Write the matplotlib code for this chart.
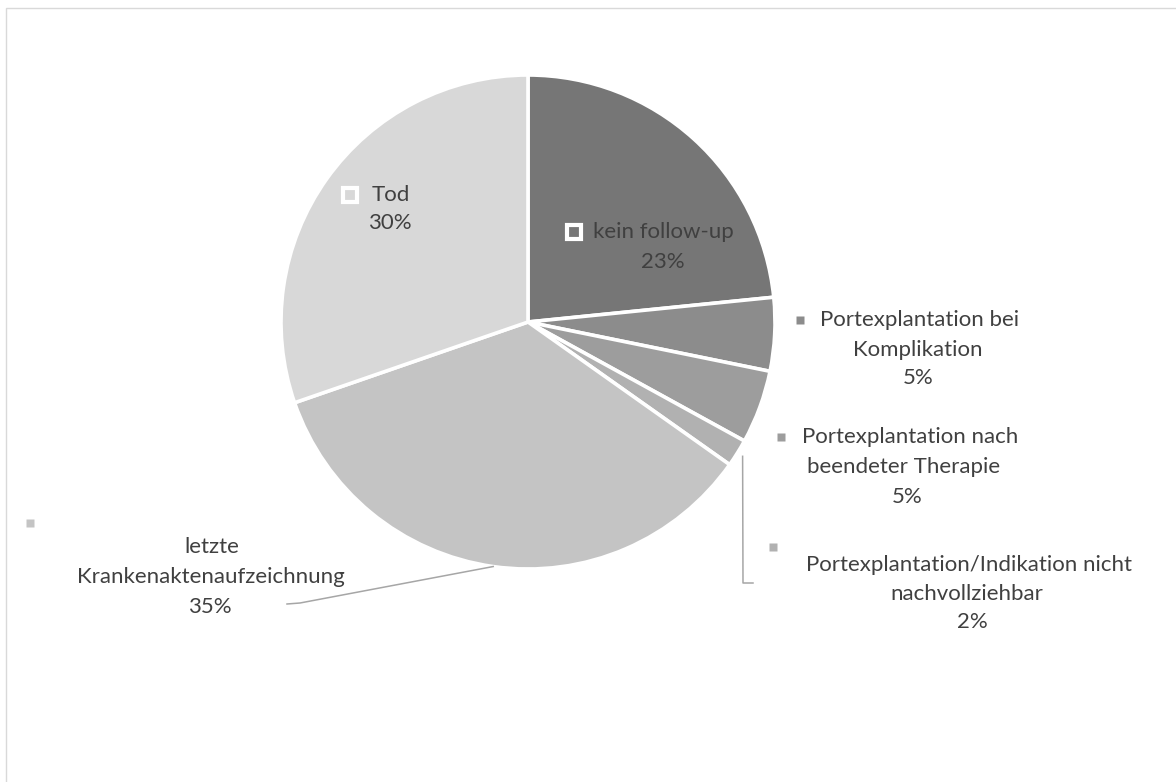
import matplotlib
matplotlib.use('Agg')
import matplotlib.pyplot as plt
from matplotlib.patches import Rectangle
import numpy as np

# Daten (Anteile in %, aus dem Bild geschaetzt)
labels = ['kein follow-up',
          'Portexplantation bei Komplikation',
          'Portexplantation nach beendeter Therapie',
          'Portexplantation/Indikation nicht nachvollziehbar',
          'letzte Krankenaktenaufzeichnung',
          'Tod']
label_lines = [['kein follow-up'],
               ['Portexplantation bei', 'Komplikation'],
               ['Portexplantation nach', 'beendeter Therapie'],
               ['Portexplantation/Indikation nicht', 'nachvollziehbar'],
               ['letzte', 'Krankenaktenaufzeichnung'],
               ['Tod']]
values = [23.4, 4.8, 4.8, 1.8, 34.9, 30.3]
colors = ['#767676', '#8c8c8c', '#9d9d9d', '#b1b1b1', '#c4c4c4', '#d8d8d8']

plt.rcParams['font.family'] = ['Lato', 'DejaVu Sans']
TEXT = '#404040'
FS = 16

W, H = 1176, 782
fig = plt.figure(figsize=(W / 100, H / 100), dpi=100)

# Rahmen
fig.patches.append(Rectangle((6 / W, -0.1), 1.2, (H - 8) / H + 0.1, transform=fig.transFigure,
                             fill=False, edgecolor='#d9d9d9', linewidth=1))

# Kreis: Mittelpunkt und Radius in Pixel
CX, CY, R = 528, 322, 247
ax = fig.add_axes([(CX - R) / W, (H - CY - R) / H, 2 * R / W, 2 * R / H])

wedges, _ = ax.pie(values, colors=colors, startangle=90, counterclock=False, radius=1,
                   wedgeprops=dict(edgecolor='white', linewidth=2.6))
ax.set_xlim(-1, 1)
ax.set_ylim(-1, 1)
ax.axis('off')


def P(px, py):
    return (px - CX) / R, (CY - py) / R


pct = [f'{round(v):d}%' for v in values]

# Layout der Beschriftungen (Pixel): Marker, Textzeilen (x, y, ha)
layout = [
    dict(marker=(574, 232), inside=True,
         lines=[(593, 232, 'left'), (663, 262, 'center')]),
    dict(marker=(800, 320), inside=False,
         lines=[(820, 320, 'left'), (918, 350, 'center'), (918, 378, 'center')]),
    dict(marker=(781, 437), inside=False,
         lines=[(802, 437, 'left'), (904, 467, 'center'), (907, 497, 'center')]),
    dict(marker=(773, 547), inside=False,
         lines=[(806, 565, 'left'), (967, 594, 'center'), (972, 622, 'center')]),
    dict(marker=(30, 523), inside=False,
         lines=[(212, 547, 'center'), (211, 577, 'center'), (210, 607, 'center')]),
    dict(marker=(350, 195), inside=True,
         lines=[(372, 195, 'left'), (390, 223, 'center')]),
]

for i, lay in enumerate(layout):
    mx, my = P(*lay['marker'])
    if lay['inside']:
        ax.plot(mx, my, 's', ms=9.5, mfc=colors[i], mec='white', mew=3, clip_on=False)
    else:
        ax.plot(mx, my, 's', ms=6, mfc=colors[i], mec='none', clip_on=False)
    texts = label_lines[i] + [pct[i]]
    for t, (tx, ty, ha) in zip(texts, lay['lines']):
        x, y = P(tx, ty)
        ax.text(x, y, t, ha=ha, va='center', fontsize=FS, color=TEXT, clip_on=False)

# Fuehrungslinien
theta = 90 - np.cumsum([0] + values) / 100 * 360
mid = (theta[:-1] + theta[1:]) / 2

# nicht nachvollziehbar
a = np.deg2rad(mid[3])
x0, y0 = 1.025 * np.cos(a), 1.025 * np.sin(a)
x1, y1 = P(743, 583)
x2, _ = P(753, 583)
ax.plot([x0, x1, x2], [y0, y1, y1], color='#a6a6a6', lw=1.1, clip_on=False)

# letzte Krankenaktenaufzeichnung
a = np.deg2rad(mid[4])
x0, y0 = 1.0 * np.cos(a), 1.0 * np.sin(a)
x1, y1 = P(300, 603)
x2, y2 = P(287, 604)
ax.plot([x0, x1, x2], [y0, y1, y2], color='#a6a6a6', lw=1.1, clip_on=False)

plt.savefig('out.png', dpi=100, facecolor='white')
